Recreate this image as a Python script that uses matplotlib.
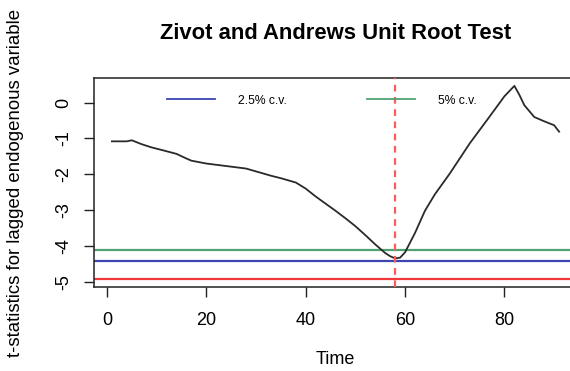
import numpy as np
import matplotlib
matplotlib.use("Agg")
import matplotlib.pyplot as plt

plt.rcParams['font.family'] = ['Liberation Sans', 'DejaVu Sans']

# --- data ---
time = [1, 4, 5, 7, 9, 11, 14, 16, 17, 20, 24, 28, 30, 33, 35, 38, 40, 42,
        44, 46, 48, 50, 52, 54, 56, 57, 58, 59, 60, 62, 64, 66, 69, 73, 77,
        80, 82, 83, 84, 86, 88, 90, 91]
tstats = [-1.08, -1.08, -1.05, -1.16, -1.25, -1.32, -1.43, -1.56, -1.62,
          -1.70, -1.77, -1.84, -1.92, -2.04, -2.11, -2.23, -2.40, -2.62,
          -2.82, -3.02, -3.23, -3.45, -3.70, -3.96, -4.20, -4.29, -4.35,
          -4.33, -4.18, -3.64, -3.02, -2.56, -1.98, -1.14, -0.39, 0.18,
          0.47, 0.22, -0.07, -0.40, -0.52, -0.63, -0.81]
cval = [-4.93, -4.42, -4.11]          # 1%, 2.5%, 5%
cval_colors = ['#f03a3a', '#3a45b0', '#4fa273']
legend_labels = ['2.5% c.v.', '5% c.v.']
break_point = 58

xticks = [0, 20, 40, 60, 80]
yticks = [0, -1, -2, -3, -4, -5]

W, H = 570, 371
fig = plt.figure(figsize=(W / 100, H / 100), dpi=100)
# plot region in pixels: left 94, right 577 (beyond the picture), top 78, bottom 287
ax = fig.add_axes([94 / W, (H - 287) / H, (577 - 94) / W, (287 - 78) / H])

ax.plot(time, tstats, color='#2a2a2a', lw=1.3, zorder=3)
for v, c in zip(cval, cval_colors):
    ax.axhline(v, color=c, lw=1.6, zorder=2)
ax.axvline(break_point, color='#ff5a5a', lw=1.6, ls=(0, (3, 2.5)), zorder=4)

ax.set_xlim(-2.6, 94.6)
ax.set_ylim(-5.15, 0.69)
ax.set_xticks(xticks)
ax.set_yticks(yticks)
ax.set_yticklabels([str(t) for t in yticks], rotation=90, va='center')
ax.tick_params(direction='out', length=7, width=1, labelsize=13,
               color='#222222')
ax.tick_params(axis='x', pad=11)
ax.tick_params(axis='y', pad=9)
for s in ax.spines.values():
    s.set_linewidth(1.1)
    s.set_color('#222222')

ax.set_title('Zivot and Andrews Unit Root Test', fontsize=15.8,
             fontweight='bold', pad=28)
ax.set_xlabel('Time', fontsize=13, labelpad=16)
ax.set_ylabel('t-statistics for lagged endogenous variable', fontsize=13.4,
              labelpad=22)

handles = [plt.Line2D([], [], color=cval_colors[1], lw=1.3),
           plt.Line2D([], [], color=cval_colors[2], lw=1.3)]
ax.legend(handles, legend_labels, loc='center left',
          bbox_to_anchor=((167 - 94) / 483, (287 - 100.7) / 209),
          ncol=2, frameon=False, fontsize=8.7, handlelength=4.0,
          handletextpad=1.9, columnspacing=6.6, borderpad=0,
          borderaxespad=0)

fig.savefig('out.png', dpi=100)
